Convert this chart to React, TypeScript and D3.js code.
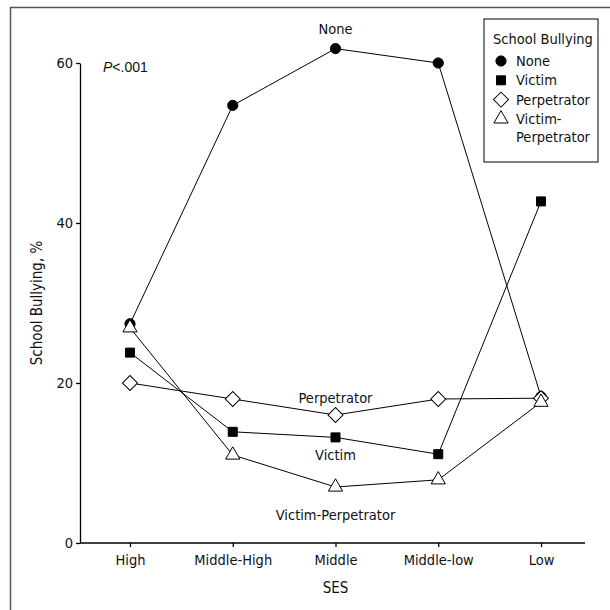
import React, { useEffect, useRef } from "react";
import * as d3 from "d3";

const categories = ["High", "Middle-High", "Middle", "Middle-low", "Low"];
const seriesNames = ["None", "Victim", "Perpetrator", "Victim-Perpetrator"];
const noneValues = [27.4, 54.7, 61.8, 60.0, 18.3];
const victimValues = [23.8, 13.9, 13.2, 11.1, 42.7];
const perpetratorValues = [20.0, 18.0, 16.0, 18.0, 18.1];
const victimPerpValues = [26.9, 11.0, 7.0, 7.9, 17.6];
const yTicks = [0, 20, 40, 60];

const FONT = "'DejaVu Sans Condensed', 'Liberation Sans Narrow', sans-serif";
const FS = 14.5;

function App() {
  const ref = useRef<SVGSVGElement>(null);

  useEffect(() => {
    const svg = d3.select(ref.current);
    svg.selectAll("*").remove();

    const width = 610;
    const height = 610;

    const x = d3.scalePoint<string>().domain(categories).range([130, 541]);
    const y = d3.scaleLinear().domain([0, 60]).range([543, 63]);
    const axisLeftX = 80;
    const axisRightX = 585;

    svg.append("rect").attr("width", width).attr("height", height).attr("fill", "#fff");

    // cropped figure frame (only top & left visible)
    svg.append("path")
      .attr("d", `M10.5,${height + 5} L10.5,7.5 L${width + 5},7.5`)
      .attr("fill", "none")
      .attr("stroke", "#555")
      .attr("stroke-width", 1.5);

    // y axis
    const gy = svg.append("g")
      .attr("transform", `translate(${axisLeftX},0)`)
      .call(d3.axisLeft(y).tickValues(yTicks).tickSize(4).tickSizeOuter(0).tickPadding(3));
    gy.select(".domain").attr("stroke", "#000").attr("stroke-width", 1.3);
    gy.selectAll(".tick line").attr("stroke", "#000").attr("stroke-width", 1.3);
    gy.selectAll(".tick text")
      .attr("font-family", FONT)
      .attr("font-size", FS)
      .attr("fill", "#111");

    // x axis
    const gx = svg.append("g")
      .attr("transform", `translate(0,${y(0)})`)
      .call(d3.axisBottom(x).tickSize(4).tickSizeOuter(0).tickPadding(8));
    gx.select(".domain").remove();
    gx.append("line")
      .attr("x1", axisLeftX)
      .attr("x2", axisRightX)
      .attr("stroke", "#000")
      .attr("stroke-width", 1.3);
    gx.selectAll(".tick line").attr("stroke", "#000").attr("stroke-width", 1.3);
    gx.selectAll(".tick text")
      .attr("font-family", FONT)
      .attr("font-size", FS)
      .attr("fill", "#111");

    // axis titles
    svg.append("text")
      .attr("x", x("Middle") as number)
      .attr("y", 593)
      .attr("text-anchor", "middle")
      .attr("font-family", FONT)
      .attr("font-size", 15)
      .attr("fill", "#111")
      .text("SES");

    svg.append("text")
      .attr("transform", `translate(42,${(y(0) + y(60)) / 2}) rotate(-90)`)
      .attr("text-anchor", "middle")
      .attr("font-family", FONT)
      .attr("font-size", 15)
      .attr("fill", "#111")
      .text("School Bullying, %");

    // P value
    const pt = svg.append("text")
      .attr("x", 103)
      .attr("y", 72)
      .attr("font-family", "'Liberation Sans', Arial, sans-serif")
      .attr("font-size", 14)
      .attr("fill", "#111");
    pt.append("tspan").attr("font-style", "italic").text("P");
    pt.append("tspan").text("<.001");

    const allValues = [noneValues, victimValues, perpetratorValues, victimPerpValues];
    const symbols = [
      { type: d3.symbolCircle, size: 82, fill: "#000", rotate: 0 },
      { type: d3.symbolSquare, size: 81, fill: "#000", rotate: 0 },
      { type: d3.symbolSquare, size: 112, fill: "#fff", rotate: 45 },
      { type: d3.symbolTriangle, size: 88, fill: "#fff", rotate: 0 },
    ];

    const line = d3.line<number>()
      .x((_, i) => x(categories[i]) as number)
      .y((d) => y(d));

    allValues.forEach((vals) => {
      svg.append("path")
        .datum(vals)
        .attr("d", line)
        .attr("fill", "none")
        .attr("stroke", "#000")
        .attr("stroke-width", 1);
    });

    allValues.forEach((vals, s) => {
      const sym = symbols[s];
      svg.append("g")
        .selectAll("path")
        .data(vals)
        .join("path")
        .attr("d", d3.symbol().type(sym.type).size(sym.size)())
        .attr("transform", (d, i) =>
          `translate(${x(categories[i])},${y(d)}) rotate(${sym.rotate})`)
        .attr("fill", sym.fill)
        .attr("stroke", "#000")
        .attr("stroke-width", 1);
    });

    // series labels next to the Middle points
    const mid = categories.indexOf("Middle");
    const labelOffsets = [-20, 18, -17, 28];
    seriesNames.forEach((name, s) => {
      svg.append("text")
        .attr("x", x("Middle") as number)
        .attr("y", y(allValues[s][mid]) + labelOffsets[s])
        .attr("dy", "0.35em")
        .attr("text-anchor", "middle")
        .attr("font-family", FONT)
        .attr("font-size", FS)
        .attr("fill", "#111")
        .text(name);
    });

    // legend
    const lg = svg.append("g").attr("transform", "translate(484,19)");
    lg.append("rect")
      .attr("width", 114)
      .attr("height", 143)
      .attr("fill", "#fff")
      .attr("stroke", "#000")
      .attr("stroke-width", 1);
    lg.append("text")
      .attr("x", 9)
      .attr("y", 20)
      .attr("dy", "0.35em")
      .attr("font-family", FONT)
      .attr("font-size", FS)
      .attr("fill", "#111")
      .text("School Bullying");
    const legendLabels = [["None"], ["Victim"], ["Perpetrator"], ["Victim-", "Perpetrator"]];
    legendLabels.forEach((lines, s) => {
      const cy = 42 + s * 19.3;
      const sym = symbols[s];
      lg.append("path")
        .attr("d", d3.symbol().type(sym.type).size(sym.size)())
        .attr("transform", `translate(17,${cy}) rotate(${sym.rotate})`)
        .attr("fill", sym.fill)
        .attr("stroke", "#000")
        .attr("stroke-width", 1);
      lines.forEach((t, j) => {
        lg.append("text")
          .attr("x", 32)
          .attr("y", cy + j * 18.5)
          .attr("dy", "0.35em")
          .attr("font-family", FONT)
          .attr("font-size", FS)
          .attr("fill", "#111")
          .text(t);
      });
    });
  }, []);

  return (
    <svg
      ref={ref}
      width={610}
      height={610}
      style={{ position: "absolute", left: 0, top: 0 }}
    />
  );
}

export default App;
